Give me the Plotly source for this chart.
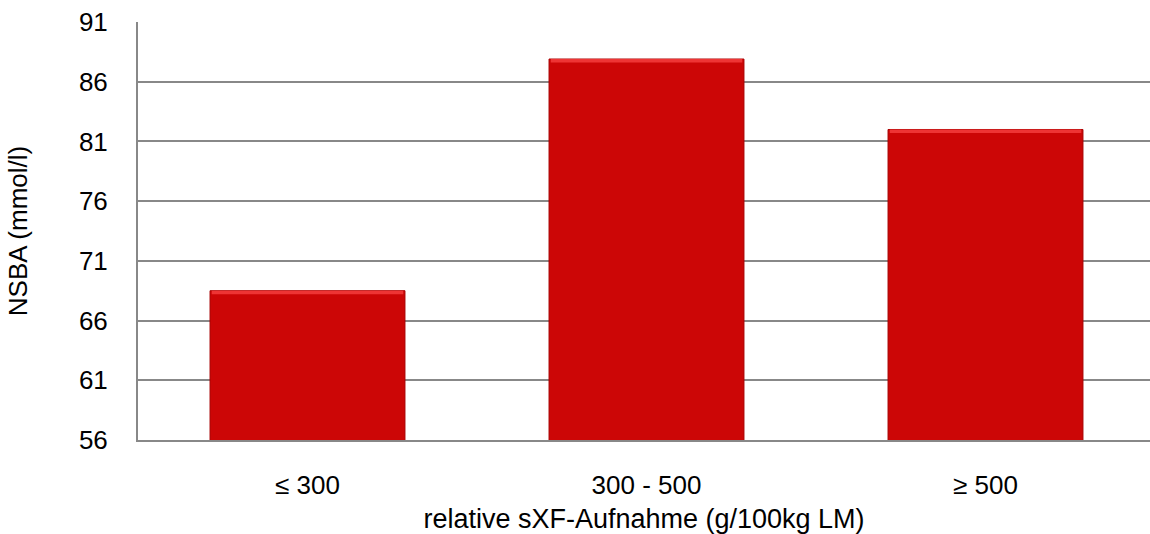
import plotly.graph_objects as go

categories = ["≤ 300", "300 - 500", "≥ 500"]
nsba_values = [68.5, 87.9, 82.0]
y_ticks = [56, 61, 66, 71, 76, 81, 86, 91]

x_title = "relative sXF-Aufnahme (g/100kg LM)"
y_title = "NSBA (mmol/l)"

FONT = "Liberation Sans, Arial, sans-serif"
GRID = "#888888"
BAR_W = 0.575
HIGHLIGHT = 0.3  # thickness of bevel highlight in data units

fig = go.Figure()
fig.add_trace(go.Bar(
    x=categories,
    y=nsba_values,
    width=BAR_W,
    marker=dict(color="#CC0606", line=dict(color="#A80000", width=1)),
    showlegend=False,
    hoverinfo="x+y",
))
# bevel highlight along the top of each bar
fig.add_trace(go.Bar(
    x=categories,
    y=[HIGHLIGHT] * len(nsba_values),
    base=[v - HIGHLIGHT for v in nsba_values],
    width=BAR_W - 0.01,
    marker=dict(color="#EE3434", line=dict(width=0)),
    showlegend=False,
    hoverinfo="skip",
))

fig.update_layout(
    width=1150, height=534,
    margin=dict(l=138, r=0, t=22, b=94),
    paper_bgcolor="white", plot_bgcolor="white",
    font=dict(family=FONT, size=26, color="#000000"),
    barmode="overlay",
)
fig.update_xaxes(
    type="category",
    range=[-0.5, -0.5 + 1012 / 339],
    showline=True, linecolor=GRID, linewidth=2,
    showgrid=False, ticks="",
    ticklabelstandoff=21,
    title=dict(text=x_title, standoff=12, font=dict(size=27)),
    tickfont=dict(size=26),
)
fig.update_yaxes(
    range=[56, 91],
    tickvals=y_ticks,
    ticktext=[str(v) for v in y_ticks],
    showline=True, linecolor=GRID, linewidth=2,
    showgrid=True, gridcolor=GRID, gridwidth=2,
    zeroline=False, ticks="",
    ticklabelstandoff=23,
    title=dict(text=y_title, standoff=44, font=dict(size=26)),
    tickfont=dict(size=26),
)

fig.write_html("out.html")
